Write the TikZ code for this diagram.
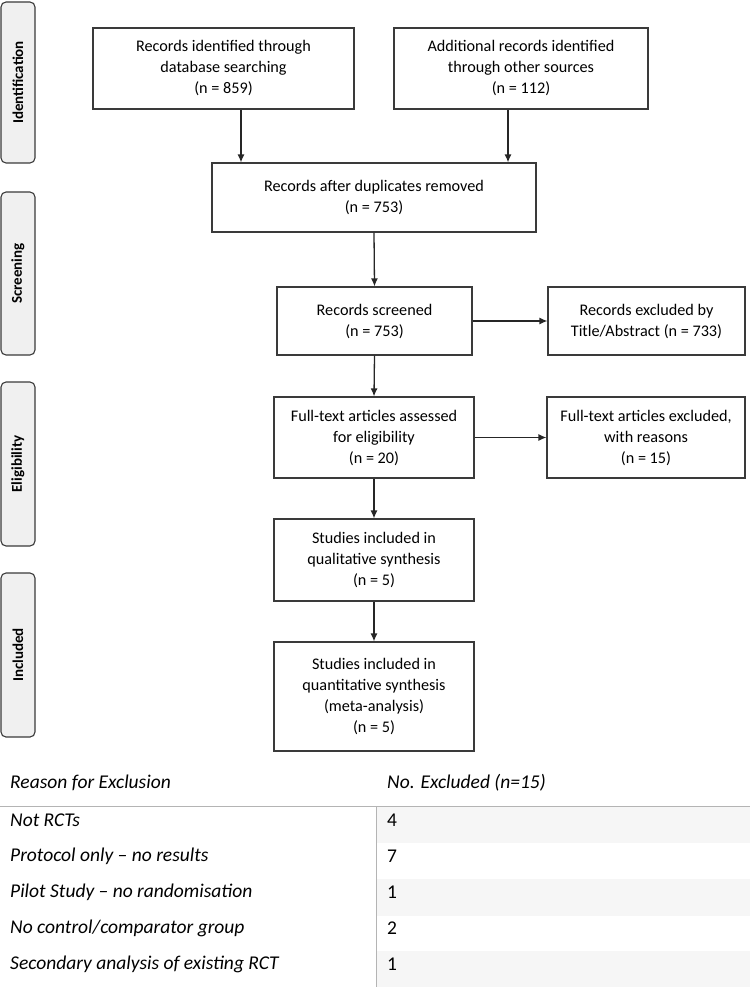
\documentclass[tikz,border=0pt]{standalone}
\usepackage{fontspec}
\setmainfont{Carlito}
\usetikzlibrary{arrows.meta}

\definecolor{edge}{HTML}{3A3A3A}
\definecolor{phasefill}{HTML}{F0F0F0}
\definecolor{rule}{HTML}{B4B4B4}
\definecolor{band}{HTML}{F6F6F6}

\begin{document}
\begin{tikzpicture}[x=1pt, y=-1pt, >={Latex[length=8pt,width=7pt]},
  box/.style={draw=edge, line width=1.2pt, align=center, inner sep=2pt,
    font=\fontsize{16.2}{21}\selectfont},
  phase/.style={draw=edge, fill=phasefill, line width=1.1pt, rounded corners=5pt,
    minimum width=34pt, font=\fontsize{15}{16}\selectfont\bfseries},
  arr/.style={->, line width=1.3pt, draw=black!85},
  cell/.style={anchor=west, inner sep=0pt, font=\fontsize{19.5}{22}\selectfont}]

  \useasboundingbox (0,0) rectangle (750,987);

  % phases on the left
  \node[phase, minimum height=161pt] (ident) at (18,82.5) {\rotatebox{90}{Identification}};
  \node[phase, minimum height=163pt] (screen) at (18,273.5) {\rotatebox{90}{Screening}};
  \node[phase, minimum height=164pt] (elig) at (18,464) {\rotatebox{90}{Eligibility}};
  \node[phase, minimum height=164pt] (incl) at (18,655) {\rotatebox{90}{Included}};

  % flow boxes
  \node[box, minimum width=261pt, minimum height=81pt] (dbrec) at (223.5,68.5)
    {Records identified through\\database searching\\(n = 859)};
  \node[box, minimum width=254pt, minimum height=81pt] (otherrec) at (521,68.5)
    {Additional records identified\\through other sources\\(n = 112)};
  \node[box, minimum width=324pt, minimum height=69pt] (dedup) at (374,197.5)
    {Records after duplicates removed\\(n = 753)};
  \node[box, minimum width=195pt, minimum height=68pt] (screened) at (374.5,321)
    {Records screened\\(n = 753)};
  \node[box, minimum width=197pt, minimum height=68pt] (exabs) at (646.5,321)
    {Records excluded by\\Title/Abstract (n = 733)};
  \node[box, minimum width=200pt, minimum height=81pt] (fulltext) at (374,437.5)
    {Full-text articles assessed\\for eligibility\\(n = 20)};
  \node[box, minimum width=198pt, minimum height=81pt] (exfull) at (646,437.5)
    {Full-text articles excluded,\\with reasons\\(n = 15)};
  \node[box, minimum width=200pt, minimum height=82pt] (qual) at (374,560)
    {Studies included in\\qualitative synthesis\\(n = 5)};
  \node[box, minimum width=200pt, minimum height=109pt] (quant) at (374,696.5)
    {Studies included in\\quantitative synthesis\\(meta-analysis)\\(n = 5)};

  % arrows
  \coordinate (dbx) at (241,0);
  \coordinate (otherx) at (508,0);
  \draw[arr] (dbx |- dbrec.south) -- (dbx |- dedup.north);
  \draw[arr] (otherx |- otherrec.south) -- (otherx |- dedup.north);
  \draw[arr] (dedup.south) -- (screened.north);
  \draw[arr] (screened.east) -- (exabs.west);
  \draw[arr] (screened.south) -- (fulltext.north);
  \draw[arr] (fulltext.east) -- (exfull.west);
  \draw[arr] (fulltext.south) -- (qual.north);
  \draw[arr] (qual.south) -- (quant.north);

  % table of reasons
  \foreach \top in {806,879,951}
    \fill[band] (377,\top) rectangle (750,\top+36.5);
  \draw[rule, line width=1pt] (0,806) -- (750,806);
  \draw[rule, line width=1pt] (376,806) -- (376,987);

  \node[cell] (reasonhd) at (10,783) {\itshape Reason for Exclusion};
  \node[cell] (counthd) at (387,783) {\itshape No. Excluded (n=15)};

  \foreach \reason/\num [count=\i] in {Not RCTs/4,
      Protocol only -- no results/7,
      Pilot Study -- no randomisation/1,
      No control\slash comparator group/2,
      Secondary analysis of existing RCT/1} {
    \node[cell] (reason\i) at (10,784+36*\i) {\itshape \reason};
    \node[cell] (num\i) at (387,784+36*\i) {\num};
  }

\end{tikzpicture}
\end{document}
